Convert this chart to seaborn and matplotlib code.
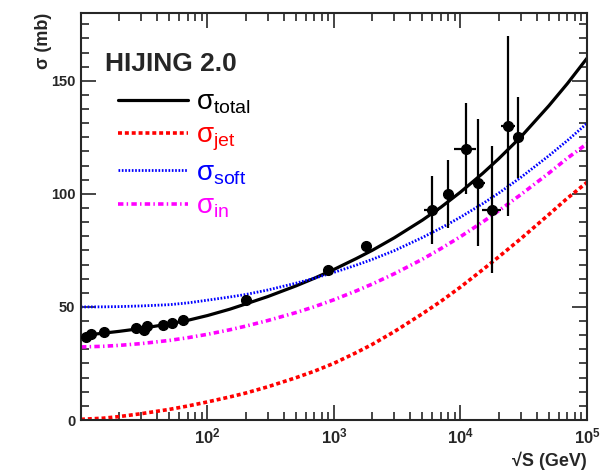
import numpy as np
import pandas as pd
import matplotlib
matplotlib.use("Agg")
import matplotlib.pyplot as plt
import seaborn as sns
from matplotlib.ticker import MultipleLocator, FixedLocator, LogLocator

# curves (sqrt(s) in GeV, sigma in mb)
sqrt_s = [10, 15, 20, 30, 50, 70, 100, 150, 200, 300, 500, 700, 1000, 1500, 2000,
          3000, 5000, 7000, 1e4, 1.5e4, 2e4, 3e4, 5e4, 7e4, 1e5]
sig_total = [37.3, 38.4, 39.2, 40.5, 42.5, 44.1, 46.2, 49.0, 51.3, 54.6, 59.3, 62.7,
             66.6, 71.4, 75.0, 80.6, 88.4, 94.1, 100.8, 109.1, 115.5, 125.2, 139.0,
             148.8, 160.0]
sig_jet = [0.3, 0.8, 1.5, 2.8, 4.7, 6.2, 8.0, 10.2, 11.9, 14.7, 18.7, 21.6, 25.1,
           29.8, 33.4, 39.1, 47.0, 52.5, 58.8, 66.5, 72.1, 80.2, 90.9, 98.1, 105.1]
sig_soft = [50.0, 50.05, 50.15, 50.45, 51.0, 51.8, 53.0, 54.4, 55.5, 57.5, 60.5, 62.7,
            65.3, 68.5, 71.0, 74.9, 80.7, 84.9, 89.7, 95.7, 100.3, 107.3, 116.9,
            123.6, 131.2]
sig_in = [32.3, 32.6, 33.0, 33.8, 35.2, 36.4, 37.9, 39.9, 41.5, 44.0, 47.5, 50.1,
          53.2, 57.1, 60.1, 64.7, 71.1, 75.8, 81.1, 87.6, 92.5, 99.7, 109.2, 115.8,
          122.2]

# measured points
data_x = [10.9, 11.9, 15.1, 27.2, 31.4, 33.3, 44.2, 52.4, 63.5, 200,
          900, 1800, 5970, 7940, 10960, 13800, 17800, 23800, 28600]
data_y = [36.8, 38.0, 39.0, 40.9, 39.7, 41.6, 41.9, 42.9, 44.1, 53.0,
          66.2, 76.8, 93.0, 100.0, 120.0, 105.0, 93.0, 130.0, 125.0]
data_yerr = [0.3, 0.3, 0.3, 0.3, 0.3, 0.3, 0.3, 0.3, 0.3, 0.5,
             0.5, 0.5, 15.0, 15.0, 20.0, 28.0, 28.0, 40.0, 18.0]
data_xlo = [10.9, 11.9, 15.1, 27.2, 31.4, 33.3, 44.2, 52.4, 63.5, 200,
            900, 1800, 5130, 7300, 8900, 12200, 14800, 20900, 28600]
data_xhi = [10.9, 11.9, 15.1, 27.2, 31.4, 33.3, 44.2, 52.4, 63.5, 200,
            900, 1800, 6760, 8600, 13200, 15700, 21000, 27000, 28600]

x_ticks = [1e2, 1e3, 1e4, 1e5]
x_ticklabels = [r"$\mathbf{10^{2}}$", r"$\mathbf{10^{3}}$",
                r"$\mathbf{10^{4}}$", r"$\mathbf{10^{5}}$"]

sns.set_style("ticks")
plt.rcParams["font.family"] = ["Liberation Sans", "DejaVu Sans"]
plt.rcParams["mathtext.fontset"] = "custom"
plt.rcParams["mathtext.rm"] = "Liberation Sans"
plt.rcParams["mathtext.it"] = "Liberation Sans:italic"
plt.rcParams["mathtext.bf"] = "Liberation Sans:bold"

fig = plt.figure(figsize=(6.03, 4.72), dpi=100)
ax = fig.add_axes([81 / 603, 52 / 472, 506 / 603, 407 / 472])

curves = pd.DataFrame({"sqrt_s": sqrt_s, "total": sig_total, "jet": sig_jet,
                       "soft": sig_soft, "in": sig_in})

sns.lineplot(data=curves, x="sqrt_s", y="total", ax=ax, color="black", lw=2.3,
             label=r"$\mathrm{\sigma}_{\mathrm{total}}$")
sns.lineplot(data=curves, x="sqrt_s", y="jet", ax=ax, color="#ff0000", lw=2.6,
             linestyle=(0, (1.1, 0.8)), label=r"$\mathrm{\sigma}_{\mathrm{jet}}$")
sns.lineplot(data=curves, x="sqrt_s", y="soft", ax=ax, color="#0000ff", lw=2.0,
             linestyle=(0, (0.6, 0.6)), label=r"$\mathrm{\sigma}_{\mathrm{soft}}$")
sns.lineplot(data=curves, x="sqrt_s", y="in", ax=ax, color="#ff00ff", lw=2.6,
             linestyle=(0, (1.5, 0.9, 0.4, 0.9)), label=r"$\mathrm{\sigma}_{\mathrm{in}}$")

dx = np.array(data_x)
xerr = [dx - np.array(data_xlo), np.array(data_xhi) - dx]
ax.errorbar(data_x, data_y, yerr=data_yerr, xerr=xerr, fmt="o", color="black",
            ms=7, elinewidth=1.6, capsize=0, zorder=5)

ax.set_xscale("log")
ax.set_xlim(10, 1e5)
ax.set_ylim(0, 180)
ax.xaxis.set_major_locator(FixedLocator(x_ticks))
ax.set_xticklabels(x_ticklabels)
ax.xaxis.set_minor_locator(LogLocator(base=10, subs=np.arange(2, 10)))
ax.yaxis.set_major_locator(MultipleLocator(50))
ax.yaxis.set_minor_locator(MultipleLocator(6.25))

for s in ax.spines.values():
    s.set_linewidth(1.5)
ax.tick_params(which="both", direction="in", top=True, right=True, width=1.2)
ax.tick_params(which="major", length=11, labelsize=10.5, pad=4)
ax.tick_params(axis="x", which="major", labelsize=12, pad=5)
ax.tick_params(which="minor", length=5.5)
for t in ax.get_yticklabels():
    t.set_fontweight("bold")

ax.set_ylabel("σ (mb)", fontsize=13, fontweight="bold", loc="top")
ax.yaxis.set_label_coords(-0.058, 1.0)
ax.set_xlabel("√S (GeV)", fontsize=13, fontweight="bold", loc="right")
ax.xaxis.set_label_coords(1.0, -0.078)

ax.text(0.047, 0.905, "HIJING 2.0", transform=ax.transAxes, fontsize=19,
        fontweight="bold", va="top", ha="left")

leg = ax.legend(loc="upper left", bbox_to_anchor=(0.052, 0.84), frameon=False,
                fontsize=20, handlelength=2.5, handletextpad=0.3,
                labelspacing=0.25, borderaxespad=0)
for txt, line in zip(leg.get_texts(), leg.get_lines()):
    txt.set_color(line.get_color())

fig.savefig("out.png", dpi=100)
